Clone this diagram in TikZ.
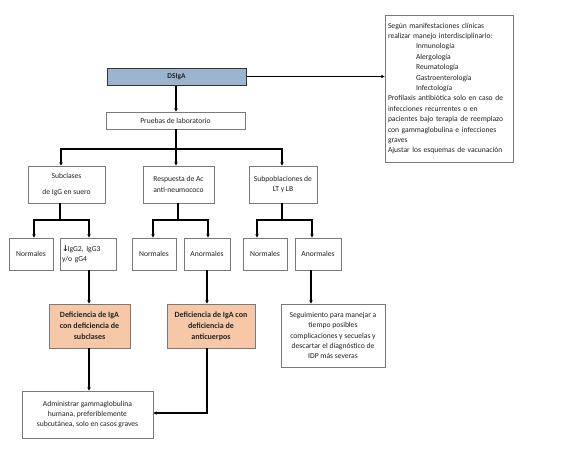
\documentclass[tikz,border=0pt]{standalone}
\usepackage{fontspec}
\setmainfont{Carlito}
\newfontfamily\symfont{DejaVu Sans}
\usetikzlibrary{arrows.meta,positioning,calc}
\definecolor{boxgray}{HTML}{7A7A7A}
\definecolor{dsblue}{HTML}{9CB4CE}
\definecolor{deforange}{HTML}{F6C8A8}
\definecolor{txt}{HTML}{222222}
\begin{document}
\begin{tikzpicture}[x=1pt,y=-1pt,
  box/.style={draw=boxgray,line width=0.8pt,fill=white,inner sep=2pt,align=center,
    text=txt,font=\fontsize{7.6}{10.4}\selectfont},
  defbox/.style={box,fill=deforange,font=\fontsize{8}{11}\selectfont\bfseries},
  conn/.style={draw=black,line width=1.1pt},
  arr/.style={conn,-{Triangle[length=3.2pt,width=3.2pt]}}]
\useasboundingbox (0,0) rectangle (576,448);
% nodes
\node[box,draw=black!80,line width=1pt,fill=dsblue,minimum width=139pt,minimum height=17pt,font=\fontsize{7.4}{10.4}\selectfont\bfseries] (DS) at (176.5,76.5) {DSIgA};
\node[box,minimum width=128pt,minimum height=147pt,text width=122pt,align=left,inner sep=3pt] (R) at (449,88.5) {Según manifestaciones clínicas\\
realizar manejo interdisciplinario:\\
\hspace*{28pt}Inmunología\\
\hspace*{28pt}Alergología\\
\hspace*{28pt}Reumatología\\
\hspace*{28pt}Gastroenterología\\
\hspace*{28pt}Infectología\\
Profilaxis antibiótica solo en caso de\\
infecciones recurrentes o en\\
pacientes bajo terapia de reemplazo\\
con gammaglobulina e infecciones\\
graves\\
Ajustar los esquemas de vacunación};
\node[box,minimum width=139pt,minimum height=17pt] (P) at (175.5,120.5) {Pruebas de laboratorio};
\node[box,minimum width=77pt,minimum height=37pt] (S1) at (66.5,184.5) {Subclases\\[6pt]de IgG en suero};
\node[box,minimum width=71pt,minimum height=37pt] (S2) at (178.5,184.5) {Respuesta de Ac\\anti-neumococo};
\node[box,minimum width=68pt,minimum height=37pt] (S3) at (283,184.5) {Subpoblaciones de\\LT y LB};
\node[box,minimum width=44pt,minimum height=32pt] (N1) at (31,254) {Normales};
\node[box,minimum width=56pt,minimum height=32pt,text width=52pt,align=left] (A1) at (88,254) {{\symfont\bfseries\fontsize{8}{10}\selectfont ↓}\kern-1pt IgG2, IgG3\\y/o gG4};
\node[box,minimum width=44pt,minimum height=32pt] (N2) at (154,254) {Normales};
\node[box,minimum width=46pt,minimum height=32pt] (A2) at (207,254) {Anormales};
\node[box,minimum width=44pt,minimum height=32pt] (N3) at (265,254) {Normales};
\node[box,minimum width=46pt,minimum height=32pt] (A3) at (318,254) {Anormales};
\node[defbox,minimum width=81pt,minimum height=44pt] (D1) at (89.5,326) {Deficiencia de IgA\\con deficiencia de\\subclases};
\node[defbox,minimum width=88pt,minimum height=44pt] (D2) at (211,326) {Deficiencia de IgA con\\deficiencia de\\anticuerpos};
\node[box,minimum width=104pt,minimum height=63pt] (SG) at (333,335.5) {Seguimiento para manejar a\\tiempo posibles\\complicaciones y secuelas y\\descartar el diagnóstico de\\IDP más severas};
\node[box,minimum width=131pt,minimum height=47pt] (AD) at (87.5,414.5) {Administrar gammaglobulina\\humana, preferiblemente\\subcutánea, solo en casos graves};
% junctions
\coordinate (j0) at (176,149);
\coordinate (j1) at (60,220);
\coordinate (j2) at (178,220);
\coordinate (j3) at (282,220);
% connectors
\draw[arr] (DS.east) -- (DS.east -| R.west);
\draw[arr] (DS.south -| j0) -- (P.north -| j0);
\draw[conn] (P.south -| j0) -- (j0);
\draw[arr] (j0) -| ([xshift=-5.5pt]S1.north);
\draw[arr] (j0) -- (S2.north -| j0);
\draw[arr] (j0) -| ([xshift=-1pt]S3.north);
\draw[conn] (S1.south -| j1) -- (j1);
\draw[arr] (j1) -| ([xshift=3pt]N1.north);
\draw[arr] (j1) -| ([xshift=1pt]A1.north);
\draw[conn] (S2.south -| j2) -- (j2);
\draw[arr] (j2) -| ([xshift=-1pt]N2.north);
\draw[arr] (j2) -| ([xshift=1pt]A2.north);
\draw[conn] (S3.south -| j3) -- (j3);
\draw[arr] (j3) -| ([xshift=-8pt]N3.north);
\draw[arr] (j3) -| ([xshift=-6pt]A3.north);
\draw[arr] ([xshift=1pt]A1.south) -- ([xshift=1pt]A1.south |- D1.north);
\draw[arr] (A2.south) -- (A2.south |- D2.north);
\draw[arr] ([xshift=-7pt]A3.south) -- ([xshift=-7pt]A3.south |- SG.north);
\draw[arr] ([xshift=-0.5pt]D1.south) -- ([xshift=-0.5pt]D1.south |- AD.north);
\draw[arr] ([xshift=-4pt]D2.south) |- ([yshift=1.5pt]AD.east);
\end{tikzpicture}
\end{document}
